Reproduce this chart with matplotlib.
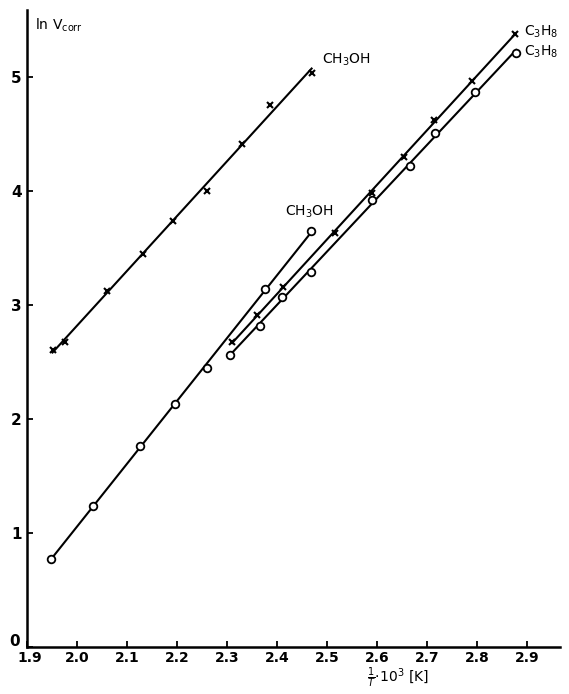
import numpy as np
import matplotlib
matplotlib.use("Agg")
import matplotlib.pyplot as plt
import matplotlib.transforms as mtransforms

# upper CH3OH series (crosses)
meoh_x_inv_t = [1.951, 1.976, 2.06, 2.131, 2.191, 2.26, 2.329, 2.386, 2.469]
meoh_x_lnv = [2.61, 2.68, 3.12, 3.45, 3.74, 4.00, 4.41, 4.76, 5.04]

# lower CH3OH series (circles)
meoh_o_inv_t = [1.948, 2.031, 2.126, 2.195, 2.26, 2.376, 2.468]
meoh_o_lnv = [0.77, 1.24, 1.76, 2.13, 2.45, 3.14, 3.65]

# C3H8 series (crosses)
prop_x_inv_t = [2.31, 2.359, 2.411, 2.516, 2.59, 2.654, 2.713, 2.789, 2.875]
prop_x_lnv = [2.68, 2.91, 3.16, 3.63, 3.98, 4.30, 4.62, 4.97, 5.38]

# C3H8 series (circles)
prop_o_inv_t = [2.306, 2.365, 2.409, 2.467, 2.589, 2.665, 2.716, 2.796, 2.878]
prop_o_lnv = [2.56, 2.82, 3.07, 3.29, 3.92, 4.22, 4.51, 4.87, 5.21]

xticks = [1.9, 2.0, 2.1, 2.2, 2.3, 2.4, 2.5, 2.6, 2.7, 2.8, 2.9]
yticks = [0, 1, 2, 3, 4, 5]

fig = plt.figure(figsize=(5.69, 6.94), dpi=100)
ax = fig.add_axes([0.0475, 0.0677, 0.937, 0.918])


def draw(x, y, marker):
    # straight drawn line through the points, as in the original
    k, b = np.polyfit(x, y, 1)
    xs = np.array([x[0], x[-1]])
    ax.plot(xs, k * xs + b, color="black", lw=1.5, zorder=2)
    if marker == "o":
        ax.plot(x, y, "o", ms=5.5, mfc="white", mec="black", mew=1.3, zorder=3)
    else:
        ax.plot(x, y, "x", ms=5, color="black", mew=1.5, zorder=3)


draw(meoh_x_inv_t, meoh_x_lnv, "x")
draw(meoh_o_inv_t, meoh_o_lnv, "o")
draw(prop_x_inv_t, prop_x_lnv, "x")
draw(prop_o_inv_t, prop_o_lnv, "o")

fs = 10
ax.text(2.49, 5.15, "CH$_3$OH", fontsize=fs, va="center", ha="left")
ax.text(2.416, 3.82, "CH$_3$OH", fontsize=fs, va="center", ha="left")
ax.text(2.893, 5.40, "C$_3$H$_8$", fontsize=fs, va="center", ha="left")
ax.text(2.893, 5.22, "C$_3$H$_8$", fontsize=fs, va="center", ha="left")

ax.set_xlim(1.9, 2.966)
ax.set_ylim(0, 5.59)
ax.set_xticks(xticks)
ax.set_xticklabels([f"{v:.1f}" for v in xticks], fontsize=fs, fontweight="bold")
ax.set_yticks(yticks)
ax.set_yticklabels([str(v) for v in yticks], fontsize=fs + 1, fontweight="bold")
ax.tick_params(direction="in", length=4, width=1.3)
ax.tick_params(axis="x", pad=3)
ax.tick_params(axis="y", pad=4)

# the "0" sits a bit above the corner in the original
zero = ax.get_yticklabels()[0]
zero.set_transform(zero.get_transform() +
                   mtransforms.ScaledTranslation(-1 / 72, 5 / 72, fig.dpi_scale_trans))
one_nine = ax.get_xticklabels()[0]
one_nine.set_transform(one_nine.get_transform() +
                       mtransforms.ScaledTranslation(2 / 72, 0, fig.dpi_scale_trans))

for side in ["top", "right"]:
    ax.spines[side].set_visible(False)
for side in ["left", "bottom"]:
    ax.spines[side].set_linewidth(1.8)

ax.text(0.015, 0.99, r"ln V$_{\rm corr}$", transform=ax.transAxes, fontsize=fs,
        va="top", ha="left")
fig.text(0.70, 0.024, r"$\frac{1}{T}$$\cdot$10$^3$ [K]", fontsize=fs, ha="center",
         va="center")

fig.savefig("out.png", dpi=100)
